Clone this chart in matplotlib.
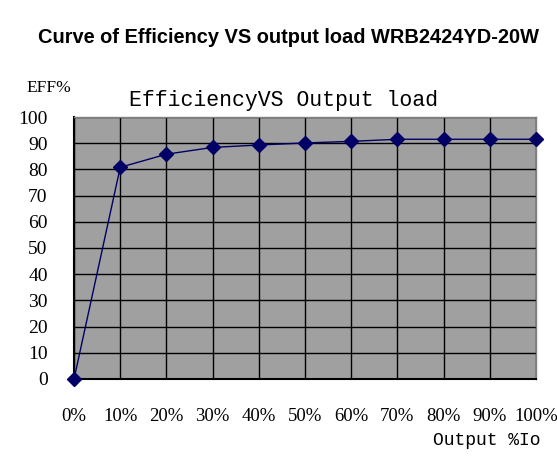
import matplotlib.pyplot as plt

# data
load_pct = [0, 10, 20, 30, 40, 50, 60, 70, 80, 90, 100]
efficiency = [0, 80.8, 85.8, 88.4, 89.3, 90.1, 90.7, 91.5, 91.5, 91.5, 91.5]
x_labels = [f'{v}%' for v in load_pct]
y_ticks = [0, 10, 20, 30, 40, 50, 60, 70, 80, 90, 100]

fig = plt.figure(figsize=(5.57, 4.61), dpi=100)
ax = fig.add_axes([0.1329, 0.1779, 0.8294, 0.5683])
ax.set_facecolor('#a0a0a0')

ax.plot(load_pct, efficiency, color='#000066', lw=1.0, marker='D', ms=7,
        mfc='#000066', mec='#000066', clip_on=False, zorder=5)

ax.set_xlim(0, 100)
ax.set_ylim(0, 100)
ax.set_xticks(load_pct)
ax.set_xticklabels(x_labels)
ax.set_yticks(y_ticks)
ax.grid(True, color='black', lw=1.0)
ax.set_axisbelow(True)
ax.tick_params(length=0, labelsize=14, labelfontfamily='Liberation Serif')
ax.tick_params(axis='y', pad=19)
ax.tick_params(axis='x', pad=21, labelsize=13.5)

for s in ['top', 'right']:
    ax.spines[s].set_color('#808080')
    ax.spines[s].set_linewidth(1.0)
for s in ['left', 'bottom']:
    ax.spines[s].set_color('black')
    ax.spines[s].set_linewidth(1.5)

fig.text(0.518, 0.9067, 'Curve of Efficiency VS output load WRB2424YD-20W',
         ha='center', va='baseline', fontsize=14.4, fontweight='bold',
         family='Liberation Sans')
fig.text(0.509, 0.782, 'EfficiencyVS Output load', ha='center', va='center',
         fontsize=15.5, family='Liberation Mono')
fig.text(0.088, 0.81, 'EFF%', ha='center', va='center', fontsize=12.5,
         family='Liberation Serif')
fig.text(0.873, 0.044, 'Output %Io', ha='center', va='center', fontsize=13,
         family='Liberation Mono')

fig.savefig('out.png', dpi=100)
